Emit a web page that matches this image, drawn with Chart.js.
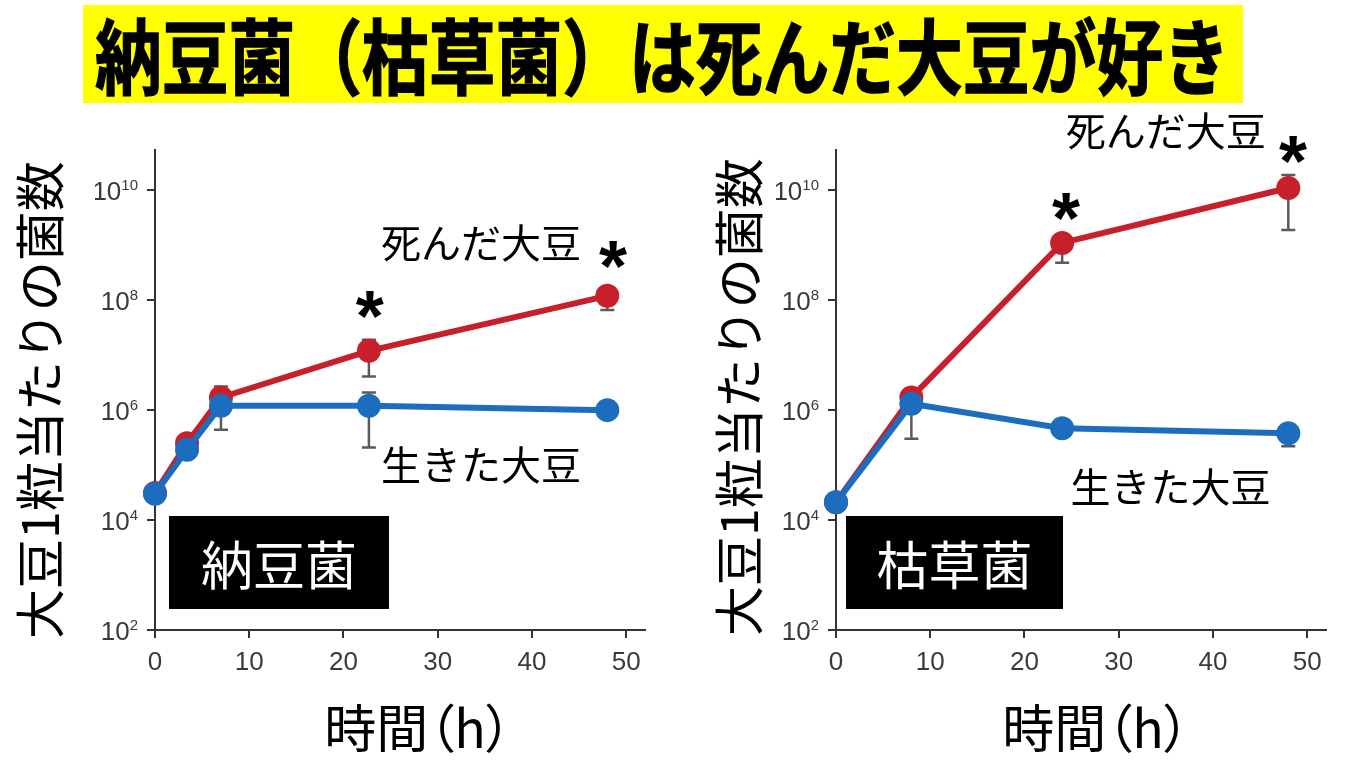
<!DOCTYPE html>
<html lang="ja">
<head>
<meta charset="utf-8">
<title>納豆菌（枯草菌）は死んだ大豆が好き</title>
<script src="https://cdn.jsdelivr.net/npm/chart.js@4.4.1/dist/chart.umd.min.js"></script>
<style>
  html, body { margin: 0; padding: 0; background: #fff; }
  body { width: 1352px; height: 761px; position: relative; overflow: hidden;
         font-family: "Noto Sans CJK JP", "Noto Sans", sans-serif; }
  .banner { position: absolute; left: 83px; top: 5px; width: 1160px; height: 98px; background: #ffff00; overflow: hidden; }
  .banner span { position: absolute; left: 12px; top: 0; line-height: 96px; font-size: 82px; font-weight: 700;
                 color: #000; white-space: nowrap; transform: scaleX(0.814); transform-origin: left center;
                 -webkit-text-stroke: 1.5px #000; }
  canvas { position: absolute; }
  .ytitle { position: absolute; width: 560px; height: 60px; line-height: 60px; text-align: center;
            font-size: 50px; color: #000; transform: rotate(-90deg); white-space: nowrap; }
  .xtitle { position: absolute; width: 300px; height: 60px; line-height: 60px; text-align: center;
            font-size: 52px; color: #000; font-feature-settings: "palt"; white-space: nowrap; }
  .tag { position: absolute; background: #000; color: #fff; font-size: 52px; text-align: center; }
</style>
</head>
<body>
<div class="banner"><span>納豆菌（枯草菌）は死んだ大豆が好き</span></div>

<div class="ytitle" style="left:-243px; top:370px;">大豆1粒当たりの菌数</div>
<div class="ytitle" style="left:456px; top:367px;">大豆1粒当たりの菌数</div>
<div class="xtitle" style="left:268px; top:696px;">時間（h）</div>
<div class="xtitle" style="left:946px; top:696px;">時間（h）</div>

<canvas id="nattoChart" width="570" height="575" style="left:95px; top:105px;"></canvas>
<canvas id="subtilisChart" width="570" height="575" style="left:776px; top:105px;"></canvas>

<div class="tag" style="left:169px; top:516px; width:220px; height:93px; line-height:93px;">納豆菌</div>
<div class="tag" style="left:846px; top:516px; width:217px; height:93px; line-height:93px;">枯草菌</div>

<script>
// Axis ticks
const xTicks = [0, 10, 20, 30, 40, 50];
const yTicks = [1e2, 1e4, 1e6, 1e8, 1e10];
const yTickExponents = ['2', '4', '6', '8', '10'];

// 納豆菌 (left panel)
const nattoTimes = [0, 3.4, 7, 22.7, 48];
const nattoDead = [3.1e4, 2.5e5, 1.7e6, 1.2e7, 1.2e8];
const nattoDeadLow = [null, null, null, 4.1e6, 6.6e7];
const nattoDeadHigh = [null, null, 2.7e6, 1.9e7, null];
const nattoLive = [3.0e4, 1.9e5, 1.2e6, 1.2e6, 1.0e6];
const nattoLiveLow = [null, null, 4.4e5, 2.1e5, 8.0e5];
const nattoLiveHigh = [null, null, null, 2.1e6, null];

// 枯草菌 (right panel)
const subtilisTimes = [0, 8, 24, 48];
const subtilisDead = [2.1e4, 1.7e6, 1.1e9, 1.1e10];
const subtilisDeadLow = [null, null, 4.8e8, 1.9e9];
const subtilisDeadHigh = [null, 2.4e6, null, 1.9e10];
const subtilisLive = [2.1e4, 1.3e6, 4.7e5, 3.8e5];
const subtilisLiveLow = [null, 3.0e5, null, 2.2e5];
const subtilisLiveHigh = [null, null, null, null];

const RED = '#c71f2b';
const BLUE = '#1d6dbf';

const toPoints = (xs, ys) => xs.map((x, i) => ({ x, y: ys[i] }));

// error bars, y tick labels with exponents, series labels and stars
const annotPlugin = {
    id: 'annot',
    beforeDatasetsDraw(chart, args, opts) {
        const xs = chart.scales.x, ys = chart.scales.y;
        const ctx = chart.ctx;
        ctx.save();
        ctx.strokeStyle = '#5a5a5a';
        ctx.lineWidth = 2.5;
        (opts.errors || []).forEach(e => {
            e.xs.forEach((xv, i) => {
                const lo = e.low[i], hi = e.high[i];
                if (lo == null && hi == null) return;
                const px = xs.getPixelForValue(xv);
                const yLo = ys.getPixelForValue(lo != null ? lo : e.ys[i]);
                const yHi = ys.getPixelForValue(hi != null ? hi : e.ys[i]);
                ctx.beginPath();
                ctx.moveTo(px, yLo);
                ctx.lineTo(px, yHi);
                if (lo != null) { ctx.moveTo(px - 7, yLo); ctx.lineTo(px + 7, yLo); }
                if (hi != null) { ctx.moveTo(px - 7, yHi); ctx.lineTo(px + 7, yHi); }
                ctx.stroke();
            });
        });
        ctx.restore();
    },
    afterDatasetsDraw(chart, args, opts) {
        const xs = chart.scales.x, ys = chart.scales.y;
        const ctx = chart.ctx;
        ctx.save();

        // y tick labels: "10" with a raised exponent
        const right = ys.right - 8 - 9;
        ctx.fillStyle = '#3a3a3a';
        ctx.textBaseline = 'alphabetic';
        ctx.textAlign = 'left';
        yTicks.forEach((v, i) => {
            const py = ys.getPixelForValue(v);
            ctx.font = '26px "Liberation Sans"';
            const bw = ctx.measureText('10').width;
            ctx.font = '15px "Liberation Sans"';
            const ew = ctx.measureText(yTickExponents[i]).width;
            ctx.font = '26px "Liberation Sans"';
            ctx.fillText('10', right - ew - bw, py + 10);
            ctx.font = '15px "Liberation Sans"';
            ctx.fillText(yTickExponents[i], right - ew, py - 0.5);
        });

        ctx.fillStyle = '#000';
        ctx.textAlign = 'center';
        ctx.textBaseline = 'middle';
        ctx.font = '40px "Noto Sans CJK JP"';
        (opts.labels || []).forEach(l => {
            ctx.fillText(l.text, xs.getPixelForValue(l.x), ys.getPixelForValue(l.y));
        });
        ctx.font = 'bold 72px "Liberation Sans"';
        ctx.textBaseline = 'alphabetic';
        (opts.stars || []).forEach(s => {
            ctx.fillText('*', xs.getPixelForValue(s.x), ys.getPixelForValue(s.y) + 36);
        });
        ctx.restore();
    }
};

function makePanel(canvasId, times, live, dead, errors, labels, stars) {
    const ctx = document.getElementById(canvasId).getContext('2d');
    return new Chart(ctx, {
        type: 'line',
        data: {
            datasets: [
                {
                    label: '生きた大豆',
                    data: toPoints(times, live),
                    borderColor: BLUE,
                    backgroundColor: BLUE,
                    borderWidth: 6,
                    pointRadius: 12,
                    pointBorderWidth: 0,
                    tension: 0
                },
                {
                    label: '死んだ大豆',
                    data: toPoints(times, dead),
                    borderColor: RED,
                    backgroundColor: RED,
                    borderWidth: 6,
                    pointRadius: 12,
                    pointBorderWidth: 0,
                    tension: 0
                }
            ]
        },
        options: {
            responsive: false,
            animation: false,
            devicePixelRatio: 1,
            clip: false,
            layout: { padding: { top: 45, right: 20, left: 0, bottom: 0 } },
            plugins: {
                legend: { display: false },
                tooltip: { enabled: false },
                annot: { errors, labels, stars }
            },
            scales: {
                x: {
                    type: 'linear',
                    min: 0,
                    max: 52,
                    afterBuildTicks: s => { s.ticks = xTicks.map(v => ({ value: v })); },
                    afterFit: s => { s.height = 50; },
                    ticks: {
                        color: '#3a3a3a',
                        font: { family: 'Liberation Sans', size: 26 },
                        padding: 9,
                        maxRotation: 0
                    },
                    grid: { drawOnChartArea: false, drawTicks: true, tickLength: 8, color: '#333', lineWidth: 2 },
                    border: { color: '#333', width: 2 }
                },
                y: {
                    type: 'logarithmic',
                    min: 1e2,
                    max: 5.4e10,
                    afterBuildTicks: s => { s.ticks = yTicks.map(v => ({ value: v })); },
                    afterFit: s => { s.width = 60; },
                    ticks: { display: false },
                    grid: { drawOnChartArea: false, drawTicks: true, tickLength: 8, color: '#333', lineWidth: 2 },
                    border: { color: '#333', width: 2 }
                }
            }
        },
        plugins: [annotPlugin]
    });
}

makePanel('nattoChart', nattoTimes, nattoLive, nattoDead,
    [
        { xs: nattoTimes, ys: nattoDead, low: nattoDeadLow, high: nattoDeadHigh },
        { xs: nattoTimes, ys: nattoLive, low: nattoLiveLow, high: nattoLiveHigh }
    ],
    [
        { text: '死んだ大豆', x: 34.6, y: 1.1e9 },
        { text: '生きた大豆', x: 34.6, y: 1.0e5 }
    ],
    [
        { x: 22.8, y: 8.1e7 },
        { x: 48.6, y: 6.6e8 }
    ]
);

makePanel('subtilisChart', subtilisTimes, subtilisLive, subtilisDead,
    [
        { xs: subtilisTimes, ys: subtilisDead, low: subtilisDeadLow, high: subtilisDeadHigh },
        { xs: subtilisTimes, ys: subtilisLive, low: subtilisLiveLow, high: subtilisLiveHigh }
    ],
    [
        { text: '死んだ大豆', x: 35.0, y: 1.2e11 },
        { text: '生きた大豆', x: 35.5, y: 4.0e4 }
    ],
    [
        { x: 24.4, y: 4.9e9 },
        { x: 48.5, y: 5.4e10 }
    ]
);
</script>
</body>
</html>
